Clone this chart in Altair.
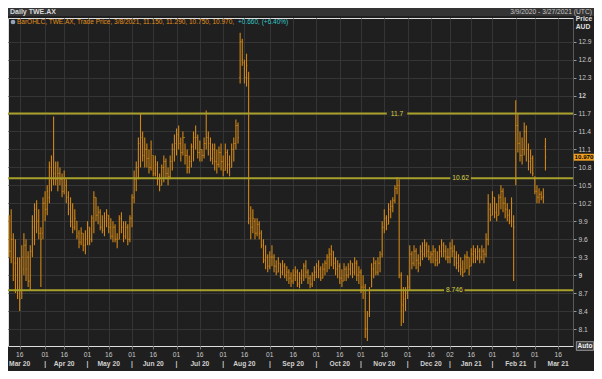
import altair as alt
import pandas as pd

# ---------------- data ----------------
HOLIDAYS = ["2020-04-10", "2020-04-13", "2020-06-08", "2020-12-25",
            "2020-12-28", "2021-01-01", "2021-01-26"]

HIGH = [10.0, 10.1, 9.7, 9.6, 9.3, 9.3, 9.5, 9.7, 9.6, 9.4,
        9.5, 10.0, 10.2, 10.25, 10.1, 9.8, 10.3, 10.4, 10.5, 10.9,
        11.0, 11.65, 10.9, 10.9, 10.8, 10.7, 10.75, 10.6, 10.4, 10.3,
        10.2, 10.1, 9.9, 9.75, 9.8, 9.7, 9.75, 9.9, 9.8, 10.0,
        10.4, 10.3, 10.15, 10.1, 10.0, 10.05, 10.1, 10.0, 9.95, 9.9,
        9.85, 9.7, 10.0, 10.05, 9.9, 9.9, 9.85, 10.0, 10.35, 10.75,
        10.9, 11.3, 11.7, 11.4, 11.3, 11.2, 11.1, 11.25, 11.0, 11.0,
        10.9, 10.7, 10.85, 11.0, 10.95, 10.8, 11.0, 11.2, 11.35, 11.45,
        11.5, 11.3, 11.4, 11.2, 11.1, 11.0, 11.2, 11.4, 11.5, 11.35,
        11.25, 11.1, 11.3, 11.75, 11.4, 11.3, 11.2, 11.2, 11.1, 11.15,
        11.2, 11.0, 11.2, 11.1, 11.0, 11.2, 11.3, 11.6, 11.55, 13.05,
        12.95, 12.6, 12.7, 12.4, 10.15, 10.1, 9.95, 9.95, 9.9, 9.75,
        9.6, 9.5, 9.35, 9.4, 9.5, 9.35, 9.25, 9.3, 9.2, 9.25,
        9.2, 9.15, 9.1, 9.05, 9.1, 9.15, 9.1, 9.05, 9.1, 9.2,
        9.25, 9.1, 9.0, 9.05, 9.15, 9.2, 9.25, 9.15, 9.2, 9.25,
        9.35, 9.45, 9.5, 9.4, 9.3, 9.25, 9.2, 9.1, 9.2, 9.15,
        9.2, 9.25, 9.2, 9.3, 9.25, 9.15, 9.1, 9.0, 8.85, 8.4,
        8.8, 9.2, 9.3, 9.25, 9.3, 9.4, 9.9, 10.1, 10.0, 10.2,
        10.25, 10.3, 10.5, 10.64, 10.6, 9.05, 8.8, 8.8, 9.0, 9.5,
        9.4, 9.5, 9.45, 9.35, 9.5, 9.55, 9.6, 9.55, 9.5, 9.4,
        9.5, 9.45, 9.4, 9.5, 9.6, 9.55, 9.5, 9.45, 9.55, 9.6,
        9.5, 9.4, 9.35, 9.3, 9.25, 9.35, 9.4, 9.3, 9.45, 9.5,
        9.45, 9.5, 9.45, 9.5, 9.45, 9.7, 10.35, 10.2, 10.4, 10.3,
        10.2, 10.35, 10.5, 10.45, 10.3, 10.2, 10.1, 10.3, 10.0, 11.92,
        11.7, 11.4, 11.3, 11.55, 11.5, 11.2, 11.1, 11.0, 10.65, 10.5,
        10.45, 10.4, 10.45, 11.29]

LOW = [9.3, 9.2, 8.9, 8.7, 8.6, 8.4, 8.6, 9.0, 8.9, 8.8,
       8.75, 9.3, 9.5, 9.7, 9.6, 8.8, 9.6, 9.9, 10.0, 10.2,
       10.4, 10.5, 10.5, 10.4, 10.5, 10.3, 10.35, 10.2, 10.0, 9.8,
       9.7, 9.75, 9.6, 9.45, 9.5, 9.4, 9.35, 9.5, 9.5, 9.55,
       9.7, 9.9, 9.85, 9.75, 9.7, 9.65, 9.8, 9.7, 9.6, 9.55,
       9.55, 9.45, 9.6, 9.7, 9.55, 9.6, 9.5, 9.55, 9.8, 10.2,
       10.4, 10.6, 10.8, 10.9, 10.8, 10.8, 10.7, 10.75, 10.65, 10.65,
       10.5, 10.4, 10.5, 10.55, 10.6, 10.5, 10.6, 10.75, 10.9, 11.0,
       11.1, 10.9, 11.0, 10.85, 10.7, 10.7, 10.8, 10.9, 11.1, 10.95,
       10.9, 10.9, 10.95, 11.1, 11.0, 10.9, 10.85, 10.75, 10.7, 10.8,
       10.75, 10.65, 10.75, 10.7, 10.65, 10.8, 10.9, 11.1, 11.2, 12.2,
       12.5, 12.2, 12.15, 9.85, 9.6, 9.7, 9.6, 9.65, 9.6, 9.45,
       9.2, 9.1, 9.05, 9.1, 9.15, 9.05, 9.0, 9.05, 8.95, 9.0,
       8.95, 8.9, 8.85, 8.8, 8.85, 8.9, 8.8, 8.78, 8.85, 8.9,
       8.95, 8.85, 8.78, 8.8, 8.9, 8.95, 8.95, 8.9, 8.95, 9.0,
       9.05, 9.1, 9.15, 9.1, 9.0, 8.95, 8.85, 8.8, 8.9, 8.9,
       8.95, 9.0, 8.95, 9.0, 8.9, 8.85, 8.7, 8.6, 7.95, 7.9,
       8.3, 8.8, 8.95, 9.0, 9.0, 9.05, 9.3, 9.7, 9.75, 9.85,
       9.95, 10.05, 10.2, 10.35, 8.95, 8.15, 8.2, 8.4, 8.6, 8.75,
       9.1, 9.15, 9.1, 9.05, 9.15, 9.25, 9.3, 9.3, 9.25, 9.2,
       9.2, 9.15, 9.15, 9.2, 9.3, 9.3, 9.25, 9.2, 9.2, 9.3,
       9.15, 9.1, 9.05, 9.0, 8.97, 9.05, 9.1, 9.0, 9.15, 9.2,
       9.2, 9.25, 9.2, 9.25, 9.2, 9.3, 9.5, 9.9, 10.0, 9.95,
       9.9, 10.0, 10.1, 10.05, 9.95, 9.9, 9.85, 9.8, 8.9, 10.5,
       11.05, 10.9, 10.85, 11.0, 10.9, 10.75, 10.7, 10.65, 10.35, 10.2,
       10.2, 10.25, 10.2, 10.75]

OPEN = [9.9, 9.4, 9.6, 9.2, 9.2, 8.9, 8.7, 9.1, 9.5, 9.3,
        8.9, 9.4, 9.8, 10.1, 9.9, 9.7, 9.7, 10.2, 10.1, 10.3,
        10.8, 10.6, 10.8, 10.6, 10.7, 10.6, 10.4, 10.5, 10.3, 10.2,
        9.9, 9.8, 9.9, 9.7, 9.55, 9.7, 9.5, 9.6, 9.8, 9.6,
        9.9, 10.3, 10.0, 10.05, 9.8, 9.75, 9.9, 10.0, 9.8, 9.65,
        9.8, 9.6, 9.6, 9.95, 9.8, 9.65, 9.8, 9.6, 9.95, 10.3,
        10.6, 10.8, 11.2, 11.3, 11.0, 11.1, 10.95, 10.8, 11.0, 10.7,
        10.85, 10.6, 10.5, 10.8, 10.9, 10.7, 10.65, 10.9, 11.1, 11.2,
        11.35, 11.2, 11.05, 11.3, 11.0, 10.8, 10.9, 11.15, 11.3, 11.3,
        11.05, 11.1, 11.0, 11.2, 11.3, 11.2, 10.95, 11.1, 10.9, 10.85,
        11.05, 10.9, 10.75, 11.05, 10.85, 10.8, 11.1, 11.2, 11.5, 12.3,
        12.9, 12.55, 12.3, 12.3, 9.9, 9.8, 9.9, 9.7, 9.85, 9.7,
        9.5, 9.25, 9.3, 9.15, 9.3, 9.3, 9.15, 9.05, 9.2, 9.05,
        9.15, 9.0, 9.05, 8.95, 8.9, 9.0, 9.05, 8.85, 8.95, 9.0,
        9.15, 9.05, 8.95, 8.85, 9.0, 9.05, 9.15, 9.1, 8.95, 9.1,
        9.2, 9.3, 9.35, 9.4, 9.2, 9.1, 9.15, 8.95, 8.9, 9.1,
        9.0, 9.1, 9.2, 9.05, 9.2, 9.0, 9.05, 8.8, 8.8, 8.1,
        8.35, 8.8, 9.1, 9.2, 9.05, 9.2, 9.35, 9.8, 9.95, 9.85,
        10.1, 10.15, 10.25, 10.45, 10.5, 9.0, 8.5, 8.6, 8.7, 8.8,
        9.35, 9.2, 9.4, 9.25, 9.2, 9.4, 9.35, 9.5, 9.4, 9.3,
        9.35, 9.4, 9.25, 9.2, 9.4, 9.5, 9.4, 9.3, 9.3, 9.45,
        9.4, 9.3, 9.2, 9.15, 9.1, 9.05, 9.3, 9.3, 9.15, 9.35,
        9.4, 9.3, 9.4, 9.3, 9.4, 9.35, 9.6, 10.1, 10.0, 10.3,
        10.05, 10.0, 10.3, 10.4, 10.2, 10.1, 10.0, 9.9, 9.9, 10.6,
        11.5, 11.2, 11.0, 11.1, 11.4, 11.1, 10.9, 10.95, 10.6, 10.4,
        10.3, 10.35, 10.3, 11.15]

CLOSE = [9.4, 9.6, 9.1, 9.0, 8.8, 8.6, 9.3, 9.5, 9.1, 8.9,
         9.4, 9.9, 10.1, 9.9, 9.7, 9.6, 10.2, 10.1, 10.4, 10.8,
         10.6, 10.7, 10.6, 10.7, 10.6, 10.4, 10.6, 10.3, 10.1, 9.9,
         9.8, 9.95, 9.65, 9.55, 9.7, 9.5, 9.65, 9.8, 9.6, 9.95,
         10.3, 10.0, 10.05, 9.8, 9.75, 9.95, 10.0, 9.8, 9.65, 9.8,
         9.6, 9.55, 9.95, 9.8, 9.65, 9.8, 9.6, 9.95, 10.3, 10.6,
         10.8, 11.2, 11.3, 11.0, 11.1, 10.95, 10.8, 11.1, 10.7, 10.9,
         10.6, 10.5, 10.8, 10.9, 10.7, 10.65, 10.9, 11.1, 11.2, 11.35,
         11.2, 11.05, 11.3, 11.0, 10.8, 10.9, 11.15, 11.3, 11.3, 11.05,
         11.1, 11.0, 11.2, 11.3, 11.2, 10.95, 11.1, 10.9, 10.85, 11.05,
         10.9, 10.75, 11.05, 10.85, 10.8, 11.1, 11.2, 11.5, 11.3, 12.9,
         12.6, 12.3, 12.5, 9.95, 9.8, 9.95, 9.7, 9.85, 9.7, 9.5,
         9.25, 9.3, 9.15, 9.3, 9.3, 9.15, 9.05, 9.2, 9.05, 9.15,
         9.0, 9.05, 8.95, 8.9, 9.0, 9.05, 8.85, 8.95, 9.0, 9.15,
         9.05, 8.95, 8.85, 9.0, 9.05, 9.15, 9.1, 8.95, 9.1, 9.2,
         9.3, 9.35, 9.4, 9.2, 9.1, 9.15, 8.95, 8.9, 9.1, 9.0,
         9.1, 9.2, 9.05, 9.2, 9.0, 9.05, 8.8, 8.75, 8.1, 8.3,
         8.75, 9.1, 9.2, 9.05, 9.2, 9.3, 9.8, 9.95, 9.85, 10.1,
         10.15, 10.25, 10.45, 10.5, 9.0, 8.4, 8.6, 8.7, 8.8, 9.35,
         9.2, 9.4, 9.25, 9.2, 9.4, 9.35, 9.5, 9.4, 9.3, 9.35,
         9.4, 9.25, 9.2, 9.4, 9.5, 9.4, 9.3, 9.3, 9.45, 9.4,
         9.3, 9.2, 9.15, 9.1, 9.05, 9.3, 9.3, 9.15, 9.35, 9.4,
         9.3, 9.4, 9.3, 9.4, 9.35, 9.6, 10.2, 10.0, 10.3, 10.05,
         10.0, 10.3, 10.4, 10.2, 10.1, 10.0, 9.9, 10.2, 9.8, 11.5,
         11.2, 11.0, 11.1, 11.4, 11.1, 10.9, 10.95, 10.7, 10.4, 10.3,
         10.35, 10.3, 10.31, 10.97]

TICK_DATES = ["2020-03-16", "2020-04-01", "2020-04-16", "2020-05-01", "2020-05-16",
              "2020-06-01", "2020-06-16", "2020-07-01", "2020-07-16", "2020-08-01",
              "2020-08-16", "2020-09-01", "2020-09-16", "2020-10-01", "2020-10-16",
              "2020-11-01", "2020-11-16", "2020-12-01", "2020-12-16", "2021-01-02",
              "2021-01-16", "2021-02-01", "2021-02-16", "2021-03-01", "2021-03-16"]
TICK_DAY = ["16", "01", "16", "01", "16", "01", "16", "01", "16", "01",
            "16", "01", "16", "01", "16", "01", "16", "01", "16", "02",
            "16", "01", "16", "01", "16"]
TICK_MONTH = ["Mar 20", "|", "Apr 20", "|", "May 20", "|", "Jun 20", "|", "Jul 20", "|",
              "Aug 20", "|", "Sep 20", "|", "Oct 20", "|", "Nov 20", "|", "Dec 20", "|",
              "Jan 21", "|", "Feb 21", "|", "Mar 21"]

LEVELS = [11.7, 10.62, 8.746]
LEVEL_TEXT = ["11.7", "10.62", "8.746"]
LEVEL_LABEL_DATES = ["2020-11-24", "2021-01-08", "2021-01-05"]

Y_TICKS = [8.1, 8.4, 8.7, 9.0, 9.3, 9.6, 9.9, 10.2, 10.5, 10.8,
           11.1, 11.4, 11.7, 12.0, 12.3, 12.6, 12.9]

# ---------------- build tables ----------------
days = pd.bdate_range("2020-03-09", "2021-03-26")
days = days[~days.isin(pd.to_datetime(HOLIDAYS))]
N = len(HIGH)


def day_index(d):
    return int(days.searchsorted(pd.Timestamp(d), side="right") - 1)


bars = pd.DataFrame({"i": list(range(N)), "O": OPEN, "H": HIGH, "L": LOW, "C": CLOSE})
bars["xo"] = bars["i"] - 0.36
bars["xc"] = bars["i"] + 0.36

ticks = pd.DataFrame({"i": [day_index(d) for d in TICK_DATES],
                      "day": TICK_DAY, "mon": TICK_MONTH})
levels = pd.DataFrame({"L": LEVELS, "t": LEVEL_TEXT,
                       "i": [day_index(d) for d in LEVEL_LABEL_DATES]})
last = pd.DataFrame({"L": [CLOSE[-1]], "t": [f"{CLOSE[-1]:.3f}"]})

chg = CLOSE[-1] - CLOSE[-2]
legend_main = (f"BarOHLC, TWE.AX, Trade Price, 3/8/2021, {OPEN[-1]:.3f}, "
               f"{HIGH[-1]:.3f}, {LOW[-1]:.3f}, {CLOSE[-1]:.3f}, ")
legend_chg = f"{chg:+.3f}, ({chg / CLOSE[-2] * 100:+.2f}%)"
one = pd.DataFrame({"a": [0]})

# ---------------- styling ----------------
W, H = 565, 328
ORANGE = "#d08617"
FONT = "Liberation Sans"
FS = 6.7

XS = alt.Scale(domain=[-0.5, 266], nice=False, zero=False)
YS = alt.Scale(domain=[7.816, 13.296], nice=False, zero=False)

XAX = alt.Axis(values=[int(v) for v in ticks["i"]], labels=False, ticks=True,
               tickSize=3, tickColor="#777777", grid=True, gridColor="#353535",
               gridWidth=1, domain=False, title=None)
YAX = alt.Axis(orient="right", values=Y_TICKS, format=".1~f", labelFontSize=FS,
               labelColor="#c8c8c8", labelFont=FONT, labelPadding=2, tickSize=3,
               tickColor="#9a9a9a", domainColor="#5a5a5a", grid=True,
               gridColor="#353535", title=None,
               labelFontWeight={"condition": {"test": "datum.value == 12 || datum.value == 9",
                                              "value": "bold"}, "value": "normal"})


def X(field):
    return alt.X(field, type="quantitative", scale=XS, axis=XAX)


def Y(field):
    return alt.Y(field, type="quantitative", scale=YS, axis=YAX)


RECT = "M-1,-0.34L1,-0.34L1,0.34L-1,0.34Z"

# ---------------- layers ----------------
hl = alt.Chart(bars).mark_rule(color=ORANGE, strokeWidth=1.1).encode(
    x=X("i"), y=Y("L"), y2="H:Q")

opn = alt.Chart(bars).mark_rule(color=ORANGE, strokeWidth=1).encode(
    x=X("xo"), x2="i:Q", y=Y("O"))

cls = alt.Chart(bars).mark_rule(color=ORANGE, strokeWidth=1).encode(
    x=X("i"), x2="xc:Q", y=Y("C"))

lv_rule = alt.Chart(levels).mark_rule(color="#a8a02a", strokeWidth=2).encode(y=Y("L"))

lv_bg = alt.Chart(levels).mark_point(shape=RECT, filled=True, color="#242424",
                                     opacity=1, size=420, strokeWidth=0).encode(
    x=X("i"), y=Y("L"))

lv_txt = alt.Chart(levels).mark_text(color="#d8d040", font=FONT, fontSize=FS,
                                     baseline="middle").encode(
    x=X("i"), y=Y("L"), text="t:N")

day_txt = alt.Chart(ticks).mark_text(color="#c8c8c8", font=FONT, fontSize=FS,
                                     baseline="middle").encode(
    x=X("i"), y=alt.value(H + 9), text="day:N")

mon_txt = alt.Chart(ticks).mark_text(color="#d0d0d0", font=FONT, fontSize=FS,
                                     fontWeight="bold", baseline="middle").encode(
    x=X("i"), y=alt.value(H + 18), text="mon:N")

price_bg = alt.Chart(last).mark_point(shape=RECT, filled=True, color="#f0a020",
                                      opacity=1, size=420, strokeWidth=0).encode(
    x=alt.value(W + 11), y=Y("L"))
price_txt = alt.Chart(last).mark_text(color="#000000", font=FONT, fontSize=6.2,
                                      fontWeight="bold", baseline="middle").encode(
    x=alt.value(W + 11), y=Y("L"), text="t:N")

title_bar = alt.Chart(one).mark_rect(color="#343434").encode(
    x=alt.value(0), x2=alt.value(W + 21), y=alt.value(-10), y2=alt.value(-2))
title_txt = alt.Chart(one).mark_text(text="Daily TWE.AX", color="#d8d8d8", font=FONT,
                                     fontSize=7, fontWeight="bold", align="left",
                                     baseline="middle").encode(
    x=alt.value(2), y=alt.value(-6))
range_txt = alt.Chart(one).mark_text(text="3/9/2020 - 3/27/2021 (UTC)", color="#c8c8c8",
                                     font=FONT, fontSize=FS, align="right",
                                     baseline="middle").encode(
    x=alt.value(W + 19), y=alt.value(-6))
price_lbl = alt.Chart(one).mark_text(text="Price", color="#e0e0e0", font=FONT,
                                     fontSize=FS, fontWeight="bold",
                                     baseline="middle").encode(
    x=alt.value(W + 11), y=alt.value(1))
aud_lbl = alt.Chart(one).mark_text(text="AUD", color="#e0e0e0", font=FONT,
                                   fontSize=FS, fontWeight="bold",
                                   baseline="middle").encode(
    x=alt.value(W + 10), y=alt.value(9))

icon = alt.Chart(one).mark_point(shape="circle", filled=True, color="#8fa4bd",
                                 size=22, opacity=1).encode(
    x=alt.value(5), y=alt.value(4))
leg1 = alt.Chart(one).mark_text(text=legend_main, color="#e0901c", font=FONT,
                                fontSize=6.5, align="left", baseline="middle").encode(
    x=alt.value(9), y=alt.value(4))
leg2 = alt.Chart(one).mark_text(text=legend_chg, color="#35c4c8", font=FONT,
                                fontSize=6.5, align="left", baseline="middle").encode(
    x=alt.value(230), y=alt.value(4))

auto_bg = alt.Chart(one).mark_point(shape="M-1,-0.5L1,-0.5L1,0.5L-1,0.5Z", filled=True,
                                    color="#3c3c3c", opacity=1, size=300,
                                    stroke="#b0b0b0", strokeWidth=0.8).encode(
    x=alt.value(W + 12), y=alt.value(H))
auto_txt = alt.Chart(one).mark_text(text="Auto", color="#f0f0f0", font=FONT,
                                    fontSize=6.5, fontWeight="bold",
                                    baseline="middle").encode(
    x=alt.value(W + 12), y=alt.value(H))

chart = alt.layer(
    hl, lv_rule, lv_bg, lv_txt, opn, cls, day_txt, mon_txt,
    price_bg, price_txt, title_bar, title_txt, range_txt, price_lbl, aud_lbl,
    icon, leg1, leg2, auto_bg, auto_txt
).properties(
    width=W, height=H,
    padding={"left": 0, "top": 10, "right": 21, "bottom": 25},
    autosize=alt.AutoSizeParams(type="none"),
    background="#1f1f1f",
).configure_view(fill="#242424", stroke="#3c3c3c", strokeWidth=1
).configure(font=FONT)

chart.save("out.html", embed_options={"renderer": "svg", "actions": False})
